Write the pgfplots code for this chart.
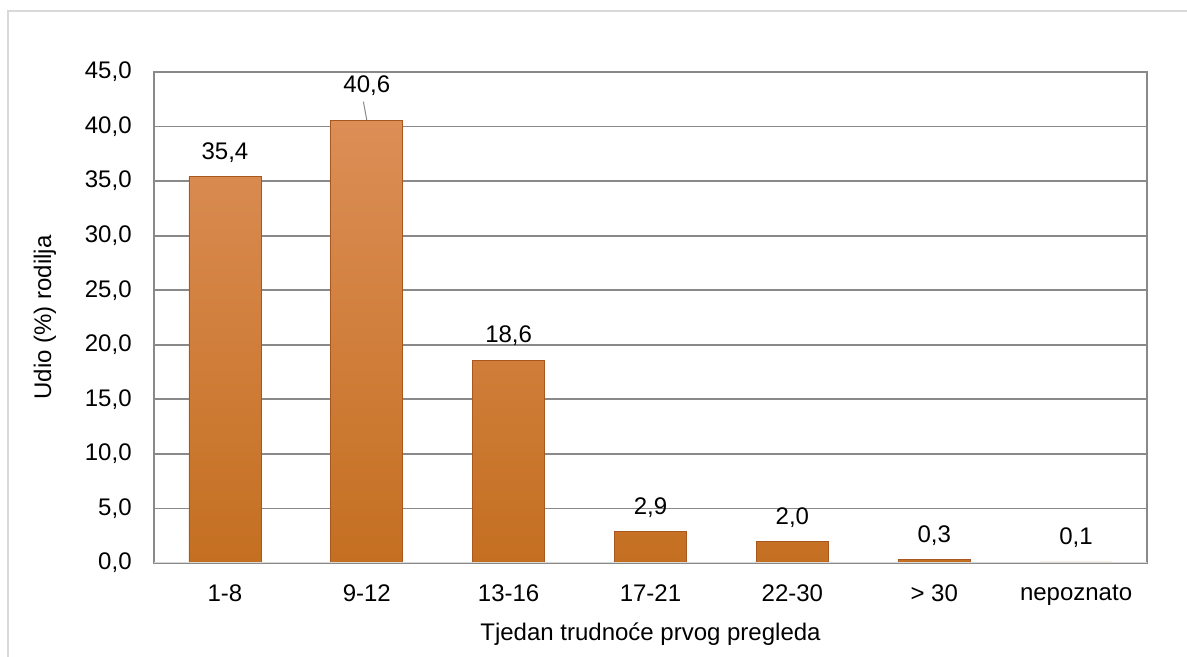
\documentclass[border=0pt]{standalone}
\usepackage{pgfplots}
\pgfplotsset{compat=1.18}
\usepackage{pgfplotstable}
\usepackage{fontspec}
\setmainfont{Liberation Sans}
\definecolor{bartop}{RGB}{220,142,86}
\definecolor{barbot}{RGB}{196,111,33}
\definecolor{baredge}{RGB}{168,88,30}
\definecolor{gridc}{RGB}{137,137,137}
\definecolor{framec}{RGB}{217,217,217}
\pgfplotstableread{
x y dy
0 35.4 12
1 40.6 17
2 18.6 12
3 2.9 12
4 2.0 12
5 0.3 12
6 0.1 12
}\datatable
\begin{document}
\fontsize{12}{14.4}\selectfont
\begin{tikzpicture}[font=\fontsize{12}{14.4}\selectfont]
\path[use as bounding box] (0,0) rectangle (593.5pt,328.5pt);
\draw[framec, line width=0.6pt] (4pt,-20pt) -- (4pt,323pt) -- (620pt,323pt);
\begin{axis}[
  at={(77pt,47pt)}, anchor=south west, scale only axis,
  width=496.5pt, height=245.5pt,
  xmin=-0.5, xmax=6.5, ymin=0, ymax=45,
  ytick={0,5,...,45},
  xtick={0,1,2,3,4,5,6},
  xticklabels={1-8,9-12,13-16,17-21,22-30,{> 30},nepoznato},
  /pgf/number format/.cd, fixed, fixed zerofill, precision=1, use comma, assume math mode=true,
  /pgfplots/.cd,
  major tick length=0pt,
  tick style={draw=none},
  ymajorgrids,
  grid style={gridc, line width=0.9pt},
  axis line style={gridc, line width=0.9pt},
  yticklabel style={xshift=-7pt},
  xticklabel style={yshift=-6.6pt},
  xlabel={Tjedan trudnoće prvog pregleda},
  ylabel={Udio (\%) rodilja},
  xlabel style={at={(axis description cs:0.5,-0.1446)}, anchor=center},
  ylabel style={at={(axis description cs:-0.1098,0.5)}, anchor=center},
  ybar,
  bar width=36pt,
  nodes near coords,
  visualization depends on={\thisrow{dy} \as \dy},
  every node near coord/.append style={anchor=center, yshift=\dy pt, text=black},
]
\addplot[top color=bartop, bottom color=barbot, draw=baredge, line width=0.4pt] table[x=x,y=y] {\datatable};
\draw[gridc, line width=0.5pt] (axis cs:1,40.6) -- (axis cs:0.976,42.28);
\draw[framec, line width=1.2pt] (axis description cs:0,0) -- (axis description cs:1,0);
\end{axis}
\end{tikzpicture}
\end{document}
